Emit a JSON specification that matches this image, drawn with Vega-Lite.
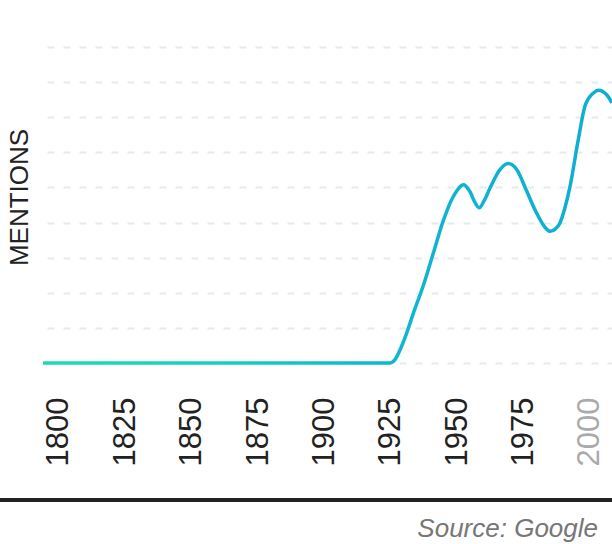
{
  "$schema": "https://vega.github.io/schema/vega-lite/v6.json",
  "autosize": {"type": "none"},
  "width": 569,
  "height": 316,
  "padding": {"left": 43, "top": 47, "right": 0, "bottom": 181},
  "background": "#ffffff",
  "config": {"view": {"stroke": null}, "font": "Liberation Sans"},
  "title": {
    "text": "Source: Google",
    "orient": "bottom",
    "anchor": "end",
    "frame": "group",
    "fontStyle": "italic",
    "fontWeight": "normal",
    "font": "Liberation Sans",
    "fontSize": 26,
    "color": "#777777",
    "dx": -14,
    "offset": 14
  },
  "layer": [
    {
      "data": {
        "values": [
          {"year": 1794, "mentions": 0},
          {"year": 1800, "mentions": 0},
          {"year": 1825, "mentions": 0},
          {"year": 1850, "mentions": 0},
          {"year": 1875, "mentions": 0},
          {"year": 1900, "mentions": 0},
          {"year": 1920, "mentions": 0},
          {"year": 1924.5, "mentions": 0},
          {"year": 1926.5, "mentions": 0.09},
          {"year": 1928.5, "mentions": 0.38},
          {"year": 1931, "mentions": 0.86},
          {"year": 1933.5, "mentions": 1.42},
          {"year": 1937.2, "mentions": 2.2},
          {"year": 1941, "mentions": 3.13},
          {"year": 1944.8, "mentions": 4.06},
          {"year": 1947.9, "mentions": 4.65},
          {"year": 1950, "mentions": 4.92},
          {"year": 1951.5, "mentions": 5.05},
          {"year": 1952.5, "mentions": 5.08},
          {"year": 1954, "mentions": 4.97},
          {"year": 1955, "mentions": 4.85},
          {"year": 1956.5, "mentions": 4.6},
          {"year": 1958.3, "mentions": 4.42},
          {"year": 1960, "mentions": 4.6},
          {"year": 1962.4, "mentions": 4.99},
          {"year": 1966.1, "mentions": 5.51},
          {"year": 1969.3, "mentions": 5.68},
          {"year": 1972.4, "mentions": 5.51},
          {"year": 1976.2, "mentions": 4.89},
          {"year": 1979.9, "mentions": 4.27},
          {"year": 1983, "mentions": 3.87},
          {"year": 1985, "mentions": 3.75},
          {"year": 1987, "mentions": 3.82},
          {"year": 1988.7, "mentions": 3.99},
          {"year": 1990.5, "mentions": 4.4},
          {"year": 1992.5, "mentions": 5.03},
          {"year": 1995.6, "mentions": 6.36},
          {"year": 1998.1, "mentions": 7.31},
          {"year": 2001.3, "mentions": 7.69},
          {"year": 2003.2, "mentions": 7.77},
          {"year": 2006.3, "mentions": 7.64},
          {"year": 2008.3, "mentions": 7.41}
        ]
      },
      "mark": {
        "type": "line",
        "interpolate": "monotone",
        "strokeWidth": 3.5,
        "strokeCap": "butt",
        "strokeJoin": "round",
        "color": {
          "gradient": "linear",
          "x1": 0, "y1": 0, "x2": 1, "y2": 0,
          "stops": [
            {"offset": 0, "color": "#1ddbb8"},
            {"offset": 0.3, "color": "#16d0c0"},
            {"offset": 0.6, "color": "#0fb7cf"},
            {"offset": 1, "color": "#0eaed3"}
          ]
        }
      },
      "encoding": {
        "x": {
          "field": "year",
          "type": "quantitative",
          "scale": {"domain": [1794, 2008.3], "nice": false, "zero": false},
          "axis": {
            "values": [1800, 1825, 1850, 1875, 1900, 1925, 1950, 1975, 2000],
            "tickCount": 20,
            "format": "d",
            "title": null,
            "grid": false,
            "domain": false,
            "ticks": false,
            "tickSize": 0,
            "labelAngle": -90,
            "labelAlign": "right",
            "labelBaseline": "middle",
            "labelPadding": 34,
            "labelFont": "Liberation Sans",
            "labelFontSize": 31,
            "labelColor": {"condition": {"test": "datum.value == 2000", "value": "#aaaaaa"}, "value": "#222222"},
            "labelOverlap": false,
            "labelFlush": false
          }
        },
        "y": {
          "field": "mentions",
          "type": "quantitative",
          "scale": {"domain": [0, 9], "nice": false},
          "axis": {
            "values": [0, 1, 2, 3, 4, 5, 6, 7, 8, 9],
            "tickCount": 20,
            "title": "MENTIONS",
            "titleFont": "Liberation Sans",
            "titleFontSize": 26,
            "titleFontWeight": "normal",
            "titleColor": "#222222",
            "titleAngle": -90,
            "titleBaseline": "alphabetic",
            "titleAlign": "center",
            "titleX": -16,
            "titleY": 150,
            "labels": false,
            "ticks": false,
            "domain": false,
            "grid": true,
            "gridColor": "#e6e9ee",
            "gridWidth": 2,
            "gridDash": [7, 9],
            "gridDashOffset": 12
          }
        }
      }
    },
    {
      "data": {"values": [{"label": "footer"}]},
      "mark": {"type": "rule", "color": "#222222", "strokeWidth": 4, "clip": false},
      "encoding": {
        "x": {"datum": 1777.8},
        "x2": {"datum": 2012},
        "y": {"datum": -3.9}
      }
    }
  ]
}
